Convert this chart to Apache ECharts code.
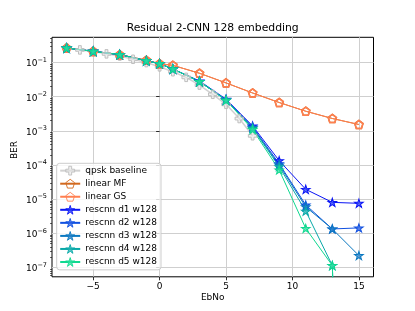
<!DOCTYPE html>
<html><head><meta charset="utf-8">
<script src="https://cdn.jsdelivr.net/npm/echarts@6/dist/echarts.min.js"></script>
<style>html,body{margin:0;padding:0;background:#fff}#c{width:415px;height:311px}</style>
</head><body><div id="c"></div>
<script>
// ---- data ----
const ebnoBaseline = [-7, -6, -5, -4, -3, -2, -1, 0, 1, 2, 3, 4, 5, 6, 7];
const qpskBaseline = [0.27, 0.235, 0.21, 0.18, 0.155, 0.125, 0.10, 0.075, 0.054, 0.037, 0.022, 0.0118, 0.006, 0.0023, 0.00072];
const ebno = [-7, -5, -3, -1, 0, 1, 3, 5, 7, 9, 11, 13, 15];
const linearMF = [0.267, 0.214, 0.171, 0.117, 0.093, 0.083, 0.0487, 0.0254, 0.0129, 0.00678, 0.00377, 0.00231, 0.00154];
const linearGS = [0.267, 0.214, 0.171, 0.117, 0.093, 0.083, 0.0487, 0.0254, 0.0129, 0.00678, 0.00377, 0.00231, 0.00154];
const ZERO = 1e-30; // a BER of 0: clipped far below the axis, as matplotlib does
const rescnnD1 = [0.267, 0.214, 0.171, 0.113, 0.093, 0.065, 0.029, 0.0085, 0.0014, 0.000135, 0.0000195, 0.0000081, 0.0000076];
const rescnnD2 = [0.267, 0.214, 0.171, 0.113, 0.093, 0.065, 0.028, 0.0081, 0.0013, 0.00011, 0.0000068, 0.00000135, 0.00000145];
const rescnnD3 = [0.267, 0.214, 0.171, 0.113, 0.093, 0.065, 0.028, 0.008, 0.00125, 0.0001, 0.000006, 0.00000135, 0.000000225];
const rescnnD4 = [0.267, 0.214, 0.171, 0.113, 0.093, 0.065, 0.028, 0.008, 0.0012, 0.00009, 0.0000045, 0.000000115, ZERO];
const rescnnD5 = [0.267, 0.214, 0.171, 0.113, 0.093, 0.065, 0.028, 0.0079, 0.0011, 0.000072, 0.0000014, 0.000000115, ZERO];
const xTicks = [-5, 0, 5, 10, 15];
const yDecades = [-7, -6, -5, -4, -3, -2, -1];

// ---- build ----
const yMajor = yDecades.map(e => Math.pow(10, e));
const yMinor = [];
for (let e = -8; e <= -1; e++) for (let m = 2; m <= 9; m++) yMinor.push(m * Math.pow(10, e));
const FONT = 'DejaVu Sans';
const STAR = 'path://M0,-1L0.2245,-0.309L0.951,-0.309L0.363,0.118L0.588,0.809L0,0.382L-0.588,0.809L-0.363,0.118L-0.951,-0.309L-0.2245,-0.309Z';
const PENT = 'path://M0,-1L0.951,-0.309L0.588,0.809L-0.588,0.809L-0.951,-0.309Z';
const PLUS = 'path://M-0.33,-1L0.33,-1L0.33,-0.33L1,-0.33L1,0.33L0.33,0.33L0.33,1L-0.33,1L-0.33,0.33L-1,0.33L-1,-0.33L-0.33,-0.33Z';
const pairs = (xs, ys) => xs.map((x, i) => [x, ys[i]]);
const minus = s => String(s).replace('-', '\u2212');

function starSeries(name, data, color, fill) {
  return {
    name, type: 'line', data: pairs(ebno, data), symbol: STAR, symbolSize: [8.6, 8.2],
    lineStyle: { color, width: 1 },
    itemStyle: { color: fill, borderColor: color, borderWidth: 1 },
    emphasis: { disabled: true }
  };
}

const chart = echarts.init(document.getElementById('c'), null, { renderer: 'canvas' });
chart.setOption({
  animation: false,
  backgroundColor: '#fff',
  grid: { left: 52, right: 41.5, top: 37.3, bottom: 34.2, show: true, borderColor: '#000', borderWidth: 1, containLabel: false },
  graphic: [
    { type: 'text', x: 212.7, y: 27.7, style: { text: 'Residual 2-CNN 128 embedding', align: 'center', verticalAlign: 'middle', font: '10.8px "DejaVu Sans"', fill: '#000' } },
    { type: 'text', x: 212.7, y: 298, style: { text: 'EbNo', align: 'center', verticalAlign: 'middle', font: '9px "DejaVu Sans"', fill: '#000' } },
    { type: 'text', x: 15, y: 150, rotation: Math.PI / 2, style: { text: 'BER', align: 'center', verticalAlign: 'middle', font: '9px "DejaVu Sans"', fill: '#000' } }
  ],
  xAxis: {
    type: 'value', min: -8.1, max: 16.1,
    axisLine: { show: false },
    axisTick: { show: true, length: 3.5, lineStyle: { color: '#000', width: 0.8 }, customValues: xTicks },
    axisLabel: { customValues: xTicks, formatter: v => minus(v), fontSize: 9, fontFamily: FONT, color: '#000', margin: 5 },
    splitLine: { show: true, lineStyle: { color: '#cfcfcf', width: 1 } }
  },
  yAxis: [
    {
      type: 'log', logBase: 10, min: Math.pow(10, -7.27), max: Math.pow(10, -0.26),
      axisLine: { show: false },
      axisTick: { show: true, length: 3.5, lineStyle: { color: '#000', width: 0.8 }, customValues: yMajor },
      axisLabel: {
        customValues: yMajor, margin: 5, color: '#000',
        formatter: v => '{b|10}{s|' + minus(Math.round(Math.log10(v))) + '}',
        rich: {
          b: { fontSize: 9, fontFamily: FONT, color: '#000', padding: [3, 0, 0, 0] },
          s: { fontSize: 6.5, fontFamily: FONT, color: '#000', verticalAlign: 'top' }
        }
      },
      splitLine: { show: true, lineStyle: { color: '#cfcfcf', width: 1 } }
    },
    {
      type: 'log', logBase: 10, min: Math.pow(10, -7.27), max: Math.pow(10, -0.26), position: 'left',
      axisLine: { show: false },
      axisTick: { show: true, length: 2, lineStyle: { color: '#000', width: 0.6 }, customValues: yMinor },
      axisLabel: { show: false }, splitLine: { show: false }
    }
  ],
  legend: {
    orient: 'vertical', left: 56.7, top: 163.3, padding: [2.5, 4, 3, 2.5],
    itemWidth: 20, itemHeight: 11, itemGap: 3.35,
    itemStyle: { borderWidth: 0.9 },
    backgroundColor: 'rgba(255,255,255,0.8)', borderColor: '#cccccc', borderWidth: 1, borderRadius: 3,
    textStyle: { fontSize: 9, fontFamily: FONT, color: '#000' },
    data: ['qpsk baseline', 'linear MF', 'linear GS', 'rescnn d1 w128', 'rescnn d2 w128', 'rescnn d3 w128', 'rescnn d4 w128', 'rescnn d5 w128']
  },
  series: [
    {
      name: 'qpsk baseline', type: 'line', data: pairs(ebnoBaseline, qpskBaseline), symbol: PLUS, symbolSize: 8.5,
      lineStyle: { color: 'rgba(190,190,190,0.7)', width: 1.5 },
      itemStyle: { color: 'rgba(230,230,230,0.6)', borderColor: 'rgba(185,185,185,0.9)', borderWidth: 1 },
      emphasis: { disabled: true }
    },
    {
      name: 'linear MF', type: 'line', data: pairs(ebno, linearMF), symbol: PENT, symbolSize: 8.2,
      lineStyle: { color: '#d2691e', width: 1 },
      itemStyle: { color: 'rgba(255,255,255,0)', borderColor: '#d2691e', borderWidth: 1.5 },
      emphasis: { disabled: true }
    },
    {
      name: 'linear GS', type: 'line', data: pairs(ebno, linearGS), symbol: PENT, symbolSize: 8.2,
      lineStyle: { color: '#ff7f50', width: 1 },
      itemStyle: { color: 'rgba(255,255,255,0)', borderColor: '#ff7f50', borderWidth: 1.5 },
      emphasis: { disabled: true }
    },
    starSeries('rescnn d1 w128', rescnnD1, '#0a14f5', 'rgba(40,60,250,0.75)'),
    starSeries('rescnn d2 w128', rescnnD2, '#1050e0', 'rgba(50,100,230,0.75)'),
    starSeries('rescnn d3 w128', rescnnD3, '#0a78c0', 'rgba(40,130,200,0.75)'),
    starSeries('rescnn d4 w128', rescnnD4, '#08a8a8', 'rgba(40,180,180,0.75)'),
    starSeries('rescnn d5 w128', rescnnD5, '#10d890', 'rgba(50,225,160,0.75)')
  ]
});
</script></body></html>
